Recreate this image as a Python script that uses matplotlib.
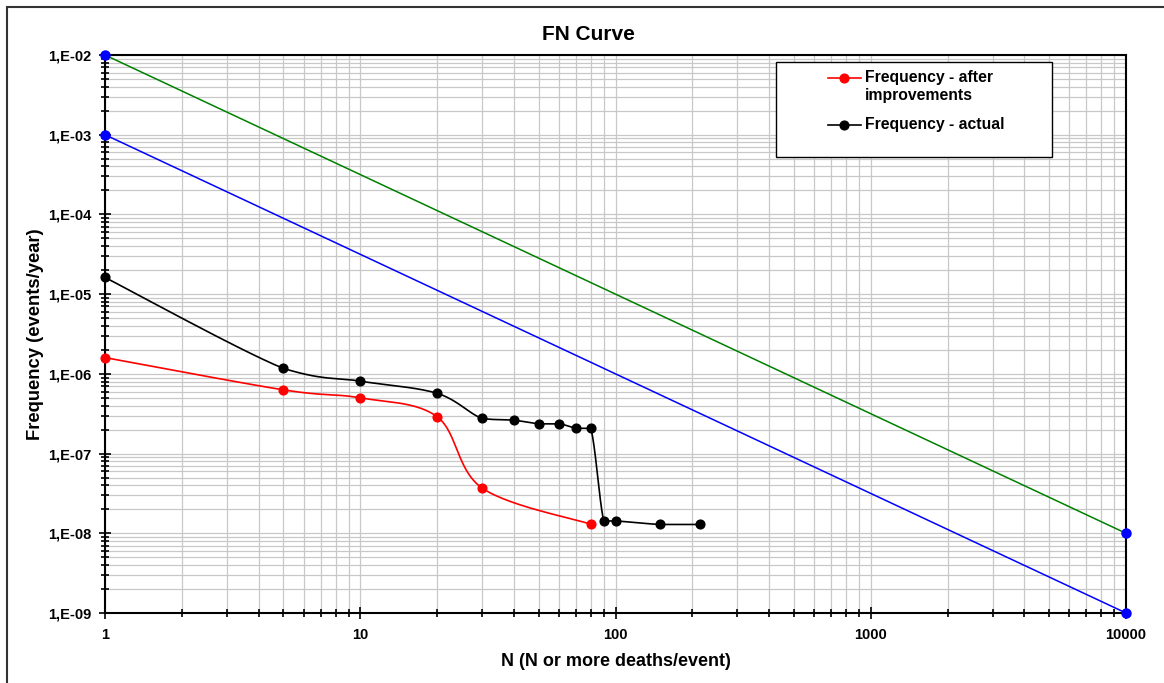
# FN curve, Excel style log-log chart
import numpy as np
import matplotlib.pyplot as plt
from matplotlib.patches import Rectangle
from matplotlib.lines import Line2D
from matplotlib.ticker import FixedLocator, LogLocator, NullFormatter

plt.rcParams['font.family'] = ['Liberation Sans', 'DejaVu Sans']
plt.rcParams['font.weight'] = 'bold'

# Data
n_after = [1, 5, 10, 20, 30, 80]
freq_after = [1.6e-6, 6.3e-7, 5.0e-7, 2.9e-7, 3.7e-8, 1.3e-8]

n_actual = [1, 5, 10, 20, 30, 40, 50, 60, 70, 80, 90, 100, 150, 215]
freq_actual = [1.62e-5, 1.17e-6, 8.1e-7, 5.7e-7, 2.76e-7, 2.62e-7, 2.36e-7,
               2.37e-7, 2.08e-7, 2.07e-7, 1.42e-8, 1.43e-8, 1.29e-8, 1.29e-8]

# criterion lines (upper and lower limit)
n_limit = [1, 10000]
freq_upper = [1e-2, 1e-8]
freq_lower = [1e-3, 1e-9]

y_ticks = [1e-2, 1e-3, 1e-4, 1e-5, 1e-6, 1e-7, 1e-8, 1e-9]
y_tick_labels = ['1,E-02', '1,E-03', '1,E-04', '1,E-05', '1,E-06', '1,E-07', '1,E-08', '1,E-09']
x_ticks = [1, 10, 100, 1000, 10000]
x_tick_labels = ['1', '10', '100', '1000', '10000']


def smooth(xs, ys, steps=30):
    # Bezier smoothing (like Excel) in log-log space, control points kept inside each segment
    lx = np.log10(xs)
    ly = np.log10(ys)
    pts = np.column_stack([lx, ly])
    out = []
    for i in range(len(pts) - 1):
        p0 = pts[i - 1] if i > 0 else pts[i]
        p1 = pts[i]
        p2 = pts[i + 1]
        p3 = pts[i + 2] if i + 2 < len(pts) else pts[i + 1]
        c1 = p1 + (p2 - p0) / 6.0
        c2 = p2 - (p3 - p1) / 6.0
        lo, hi = min(p1[1], p2[1]), max(p1[1], p2[1])
        c1[1] = np.clip(c1[1], lo, hi)
        c2[1] = np.clip(c2[1], lo, hi)
        t = np.linspace(0, 1, steps)[:, None]
        seg = ((1 - t) ** 3) * p1 + 3 * ((1 - t) ** 2) * t * c1 + 3 * (1 - t) * t ** 2 * c2 + t ** 3 * p2
        out.append(seg)
    out = np.vstack(out)
    return 10 ** out[:, 0], 10 ** out[:, 1]


fig = plt.figure(figsize=(11.64, 6.83), dpi=100)
ax = fig.add_axes([105 / 1164, 1 - 613 / 683, (1126 - 105) / 1164, (613 - 55) / 683])

# Outer chart frame (cut off at right and bottom)
fig.patches.append(Rectangle((7 / 1164, -0.05), 1.2, 1 - 7 / 683 + 0.05, transform=fig.transFigure,
                             fill=False, edgecolor='#333333', linewidth=1.5))

# Criterion lines
ax.plot(n_limit, freq_upper, color='green', lw=1.1, zorder=3)
ax.plot(n_limit, freq_lower, color='blue', lw=1.1, zorder=3)
ax.plot(n_limit, freq_upper, 'o', color='blue', ms=6.5, zorder=5, clip_on=False)
ax.plot(n_limit, freq_lower, 'o', color='blue', ms=6.5, zorder=5, clip_on=False)

# Smoothed series
sx, sy = smooth(n_after, freq_after)
ax.plot(sx, sy, color='red', lw=1.2, zorder=4)
ax.plot(n_after, freq_after, 'o', color='red', ms=6.3, zorder=5, clip_on=False)
sx, sy = smooth(n_actual, freq_actual)
ax.plot(sx, sy, color='black', lw=1.2, zorder=4)
ax.plot(n_actual, freq_actual, 'o', color='black', ms=6.3, zorder=5, clip_on=False)

ax.set_xscale('log')
ax.set_yscale('log')
ax.set_xlim(1, 10000)
ax.set_ylim(1e-9, 1e-2)

ax.xaxis.set_major_locator(FixedLocator(x_ticks))
ax.set_xticklabels(x_tick_labels)
ax.yaxis.set_major_locator(FixedLocator(y_ticks))
ax.set_yticklabels(y_tick_labels)
ax.xaxis.set_minor_locator(LogLocator(base=10, subs=np.arange(2, 10)))
ax.yaxis.set_minor_locator(LogLocator(base=10, subs=np.arange(2, 10)))
ax.xaxis.set_minor_formatter(NullFormatter())
ax.yaxis.set_minor_formatter(NullFormatter())

ax.tick_params(axis='both', which='both', direction='inout', width=1.2, labelsize=10.5)
ax.tick_params(axis='both', which='major', length=8, pad=6)
ax.tick_params(axis='both', which='minor', length=6)
ax.tick_params(axis='x', which='major', pad=7)

ax.grid(True, which='both', color='#c8c8c8', linewidth=0.9, zorder=0)
ax.set_axisbelow(True)
for side in ['left', 'bottom', 'top', 'right']:
    ax.spines[side].set_linewidth(1.5)

# Title is centred on the whole chart area, not on the plot box
fig.text(588 / 1164, 1 - 34 / 683, 'FN Curve', ha='center', va='center', fontsize=15, fontweight='bold')
ax.set_xlabel('N (N or more deaths/event)', fontsize=13, fontweight='bold', labelpad=8)
ax.set_ylabel('Frequency (events/year)', fontsize=13.2, fontweight='bold', labelpad=3)

# Legend box drawn by hand so the red key sits on the first text line
ax.add_patch(Rectangle((0.657, 0.817), 0.271, 0.17, transform=ax.transAxes, facecolor='white',
                       edgecolor='black', lw=1.0, zorder=6))
legend_rows = [('red', ['Frequency - after', 'improvements'], 0.9588),
               ('black', ['Frequency - actual'], 0.8746)]
for colour, lines, ypos in legend_rows:
    ax.add_line(Line2D([0.708, 0.740], [ypos, ypos], color=colour, lw=1.2, transform=ax.transAxes, zorder=7))
    ax.add_line(Line2D([0.724], [ypos], color=colour, marker='o', ms=6.3, transform=ax.transAxes, zorder=7))
    for k, txt in enumerate(lines):
        ax.text(0.7444, ypos - k * 0.0305, txt, transform=ax.transAxes, ha='left', va='center',
                fontsize=11.3, fontweight='bold', zorder=7)

plt.savefig('out.png', dpi=100)
